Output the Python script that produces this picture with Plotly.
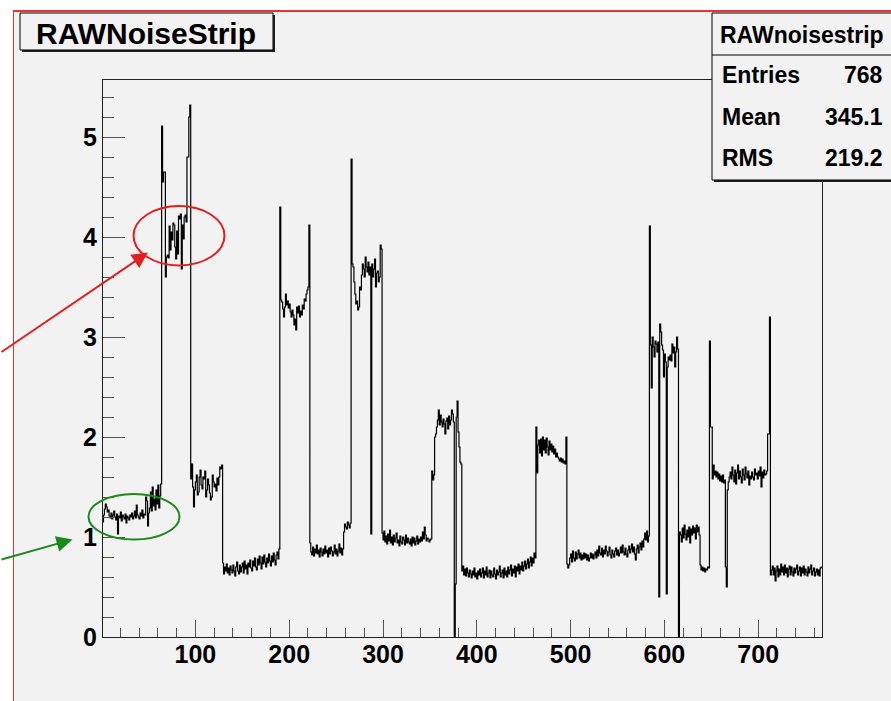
import plotly.graph_objects as go

# ---------------- data (bin contents) ----------------
seg_a = [1.17,1.15,1.22,1.28,1.33,1.30,1.25,1.27,1.21,1.19,
         1.24,1.18,1.22,1.26,1.20,1.17,1.23,1.03,1.21,1.19,
         1.25,1.16,1.22,1.20,1.18,1.23,1.14,1.21,1.19,1.17,
         1.22,1.20,1.24,1.18,1.21,1.26,1.19,1.32,1.22,1.20,
         1.18,1.24,1.21,1.27,1.19,1.23,1.22,1.40,1.36,1.11,
         1.24,1.29,1.45,1.26,1.50,1.31,1.38,1.27,1.47,1.33,
         1.52,1.29,1.41,1.53]
seg_b = [5.11,4.55,4.65,4.65,3.60,3.80,3.82,3.79,4.11,3.87,
         4.05,3.97,4.14,4.12,3.90,3.78,4.06,3.83,4.21,4.18,
         4.23,3.68,4.12,3.98,4.20,4.22,4.15,4.80,4.80,5.20,
         5.32]
seg_c = [1.58,1.73,1.50,1.30,1.47,1.55,1.62,1.42,1.45,1.60,
         1.67,1.52,1.48,1.60,1.58,1.66,1.40,1.47,1.58,1.52,
         1.44,1.37,1.40,1.62,1.55,1.50,1.53,1.46,1.59,1.52,
         1.60,1.70,1.68,1.72]
seg_d = [0.74,0.63,0.70,0.66,0.73,0.64,0.69,0.62,0.71,0.67,
         0.64,0.72,0.66,0.61,0.70,0.75,0.66,0.63,0.72,0.65,
         0.70,0.74,0.64,0.76,0.68,0.72,0.63,0.74,0.70,0.77,
         0.69,0.66,0.76,0.71,0.79,0.70,0.67,0.78,0.72,0.81,
         0.74,0.68,0.80,0.73,0.82,0.75,0.70,0.79,0.74,0.83,
         0.76,0.71,0.81,0.75,0.84,0.77,0.72,0.82,0.85,0.78,
         0.88]
seg_e = [4.30,3.37,3.35,3.28,3.20,3.30,3.43,3.32,3.36,3.29,
         3.33,3.25,3.20,3.27,3.22,3.12,3.18,3.07,3.30,3.24,
         3.31,3.20,3.26,3.22,3.32,3.28,3.38,3.36,3.43,3.47,
         3.50,4.12]
seg_f = [0.94,0.85,0.82,0.90,0.81,0.88,0.84,0.92,0.83,0.87,
         0.80,0.89,0.85,0.81,0.88,0.83,0.91,0.84,0.87,0.80,
         0.89,0.83,0.90,0.86,0.81,0.85,0.92,0.83,0.88,0.81,
         0.86,0.93,0.84,0.89,0.82,0.88,
         1.05,1.13,1.10,1.08,1.15,1.12,1.09,1.14]
seg_g = [4.78,3.73,3.70,3.55,3.43,3.33,3.36,3.27,3.30,3.50,
         3.47,3.62,3.73,3.68,3.60,3.80,3.70,3.65,3.75,3.62,
         3.70,1.03,3.73,3.60,3.68,3.78,3.50,3.64,3.66,3.55,
         3.60,3.92,3.88]
seg_h = [1.04,0.97,1.06,0.95,1.01,0.93,1.03,0.96,1.07,0.94,
         1.00,0.92,1.02,0.95,0.99,1.04,0.94,0.97,0.91,1.01,
         0.95,0.93,1.00,0.97,0.92,1.02,0.94,0.99,0.95,0.93,
         0.98,0.91,1.00,0.94,0.99,0.92,0.96,1.01,0.93,0.98,
         0.95,1.00,0.96,1.05,0.98,1.10,1.02,0.96,0.99,0.98,
         0.95,0.97,0.98]
seg_i = [1.66,1.57,1.62,2.00,2.03,2.10,2.17,2.27,2.12,2.22,
         2.15,2.10,2.18,2.13,2.03,2.16,2.19,2.08,2.21,2.12,
         2.17,2.27,2.23,2.15,0.00,0.53,2.20,2.36,2.05,1.90,
         1.75,1.73]
seg_j = [0.66,0.71,0.62,0.68,0.61,0.69,0.64,0.60,0.67,0.63,
         0.59,0.66,0.62,0.69,0.60,0.64,0.58,0.66,0.62,0.68,
         0.60,0.64,0.69,0.59,0.66,0.62,0.70,0.60,0.64,0.67,
         0.59,0.66,0.62,0.60,0.69,0.63,0.58,0.67,0.62,0.65,
         0.71,0.60,0.64,0.67,0.59,0.69,0.62,0.66,0.60,0.70,
         0.63,0.67,0.72,0.61,0.68,0.64,0.71,0.60,0.70,0.66,
         0.73,0.63,0.71,0.67,0.75,0.66,0.71,0.76,0.68,0.73,
         0.78,0.69,0.75,0.80,0.71,0.79,0.74,0.84,0.79]
seg_k = [2.10,1.64,1.92,1.97,1.84,1.98,1.81,2.00,1.87,1.97,
         1.84,1.99,1.90,1.82,1.96,1.87,1.93,1.85,1.91,1.83,
         1.88,1.80,1.84,1.80,1.78,1.76,1.79,1.75,1.78,1.74,
         1.76,1.73,2.00]
seg_l = [0.73,0.69,0.72,0.79,0.83,0.75,0.86,0.79,0.76,0.85,
         0.78,0.83,0.87,0.79,0.84,0.77,0.82,0.78,0.84,0.79,
         0.83,0.77,0.82,0.76,0.79,0.84,0.79,0.83,0.78,0.82,
         0.85,0.79,0.87,0.81,0.91,0.84,0.82,0.89,0.80,0.87,
         0.83,0.91,0.86,0.81,0.85,0.90,0.82,0.79,0.87,0.83,
         0.80,0.86,0.89,0.82,0.87,0.81,0.84,0.90,0.84,0.92,
         0.85,0.82,0.89,0.83,0.80,0.87,0.91,0.84,0.88,0.93,
         0.85,0.90,0.83,0.77,0.88,0.92,0.84,0.90,0.94,0.87,
         0.96,0.90,0.98,1.04,0.97,1.06,0.95,1.01]
seg_m = [4.11,2.92,2.49,3.00,2.90,2.80,2.96,2.93,2.85,2.95,
         0.40,3.13,3.05,2.92,2.87,2.60,2.83,2.75,0.43,2.70,
         2.80,2.77,2.82,2.76,2.93,2.84,2.90,2.70,2.85,3.00,
         2.88]
seg_n = [0.00,1.05,1.02,0.95,1.09,0.99,1.12,1.03,0.97,1.07,
         1.00,1.10,0.94,1.08,1.02,1.11,1.04,1.09,0.98,1.12,
         1.05,1.10,1.02,
         0.72,0.67,0.70,0.66,0.69,0.65,0.68,0.67,0.70,0.69]
seg_o = [2.96,2.10,2.10,1.58,1.72,1.62,1.66,1.60,1.65,1.58,
         1.63,1.56,1.61,1.55,1.62,1.54,1.57,0.70,0.50,1.47,
         1.55,1.60,1.65,1.58,1.70,1.62,1.55,1.67,1.53,1.64,
         1.72,1.58,1.66,1.60,1.54,1.68,1.62,1.57,1.70,1.63,
         1.59,1.66,1.52,1.61,1.58,1.65,1.60,1.57,1.68,1.62,
         1.64,1.58,1.66,1.61,1.70,1.50,1.65,1.59,1.67,1.62,
         1.63,1.66,2.03,2.03,3.20]
seg_p = [0.62,0.67,0.71,0.62,0.69,0.56,0.66,0.71,0.60,0.68,
         0.62,0.73,0.65,0.70,0.62,0.72,0.64,0.69,0.60,0.68,
         0.71,0.62,0.70,0.65,0.61,0.69,0.64,0.68,0.72,0.62,
         0.66,0.70,0.61,0.69,0.64,0.71,0.62,0.68,0.65,0.61,
         0.70,0.64,0.68,0.72,0.62,0.66,0.69,0.61,0.65,0.68,
         0.62,0.67,0.61,0.69,0.70]

contents = (seg_a + seg_b + seg_c + seg_d + seg_e + seg_f + seg_g + seg_h +
            seg_i + seg_j + seg_k + seg_l + seg_m + seg_n + seg_o + seg_p)
n_bins = len(contents)            # 768
x_ticks = [100, 200, 300, 400, 500, 600, 700]
y_ticks = [0, 1, 2, 3, 4, 5]

hist_title = "RAWNoiseStrip"
stats_title = "RAWnoisestrip"
stats_labels = ["Entries", "Mean", "RMS"]
stats_values = ["768", "345.1", "219.2"]

# ---------------- figure ----------------
W, H = 891, 701
ML, MR, MT, MB = 103, 69, 80, 64
PW, PH = W - ML - MR, H - MT - MB


def PX(x):
    return (x - ML) / PW


def PY(y):
    return (H - MB - y) / PH


edges = list(range(n_bins + 1))
fig = go.Figure(go.Scatter(
    x=edges, y=contents + [contents[-1]],
    mode="lines", line=dict(shape="hv", color="black", width=1.2),
    hoverinfo="skip", showlegend=False))

tickfont = dict(family="Liberation Sans", size=25, color="black", weight="bold")
fig.update_layout(
    width=W, height=H,
    margin=dict(l=ML, r=MR, t=MT, b=MB, pad=0),
    paper_bgcolor="#f2f2f2", plot_bgcolor="#f2f2f2",
    xaxis=dict(range=[1.5, 768], tickvals=x_ticks, ticks="inside", ticklen=17,
               tickwidth=1, tickcolor="#555", showline=True, linecolor="#222",
               linewidth=1, mirror=True, showgrid=False, zeroline=False,
               tickfont=tickfont, ticklabelstandoff=-5,
               minor=dict(dtick=20, tick0=0, ticks="inside", ticklen=9,
                          tickcolor="#555", showgrid=False)),
    yaxis=dict(range=[0, 5.57], tickvals=y_ticks, ticks="inside", ticklen=22,
               tickwidth=1, tickcolor="#555", showline=True, linecolor="#222",
               linewidth=1, mirror=True, showgrid=False, zeroline=False,
               tickfont=tickfont,
               minor=dict(dtick=0.2, tick0=0, ticks="inside", ticklen=11,
                          tickcolor="#555", showgrid=False)),
)

shapes = []
# white margins outside the red frame
shapes.append(dict(type="rect", xref="paper", yref="paper", x0=PX(0), x1=PX(13),
                   y0=PY(H), y1=PY(0), fillcolor="white", line=dict(width=0), layer="above"))
shapes.append(dict(type="rect", xref="paper", yref="paper", x0=PX(0), x1=PX(W),
                   y0=PY(10), y1=PY(0), fillcolor="white", line=dict(width=0), layer="above"))
# red frame lines
shapes.append(dict(type="line", xref="paper", yref="paper", x0=PX(13), x1=PX(W),
                   y0=PY(11), y1=PY(11), line=dict(color="#ee3030", width=2), layer="above"))
shapes.append(dict(type="line", xref="paper", yref="paper", x0=PX(13.5), x1=PX(13.5),
                   y0=PY(10), y1=PY(H), line=dict(color="#ee3030", width=1), layer="above"))
# title box with shadow
shapes.append(dict(type="rect", xref="paper", yref="paper", x0=PX(22), x1=PX(275),
                   y0=PY(52), y1=PY(15), fillcolor="#222", line=dict(width=0), layer="above"))
shapes.append(dict(type="rect", xref="paper", yref="paper", x0=PX(20), x1=PX(273),
                   y0=PY(50), y1=PY(13), fillcolor="#f2f2f2",
                   line=dict(color="black", width=1), layer="above"))
# stats box with shadow
shapes.append(dict(type="rect", xref="paper", yref="paper", x0=PX(714), x1=PX(895),
                   y0=PY(182), y1=PY(15), fillcolor="#222", line=dict(width=0), layer="above"))
shapes.append(dict(type="rect", xref="paper", yref="paper", x0=PX(712), x1=PX(893),
                   y0=PY(180), y1=PY(13), fillcolor="#f2f2f2",
                   line=dict(color="black", width=1), layer="above"))
shapes.append(dict(type="line", xref="paper", yref="paper", x0=PX(712), x1=PX(893),
                   y0=PY(55), y1=PY(55), line=dict(color="black", width=1), layer="above"))
# ellipses
shapes.append(dict(type="circle", xref="paper", yref="paper", x0=PX(133.5), x1=PX(224.5),
                   y0=PY(265.5), y1=PY(206), line=dict(color="#e02020", width=2), layer="above"))
shapes.append(dict(type="circle", xref="paper", yref="paper", x0=PX(88.5), x1=PX(179.5),
                   y0=PY(539.5), y1=PY(494), line=dict(color="#1a8a1a", width=2), layer="above"))
fig.update_layout(shapes=shapes)

ann = []
ann.append(dict(xref="paper", yref="paper", x=PX(146), y=PY(33), text=hist_title,
                showarrow=False, xanchor="center", yanchor="middle",
                font=dict(family="Liberation Sans", size=30, color="black", weight="bold")))
sfont = dict(family="Liberation Sans", size=23, color="black", weight="bold")
ann.append(dict(xref="paper", yref="paper", x=PX(802), y=PY(35), text=stats_title,
                showarrow=False, xanchor="center", yanchor="middle", font=sfont))
row_y = [75, 116.5, 158]
for lab, val, yy in zip(stats_labels, stats_values, row_y):
    ann.append(dict(xref="paper", yref="paper", x=PX(720), y=PY(yy), text=lab,
                    showarrow=False, xanchor="left", yanchor="middle", font=sfont))
    ann.append(dict(xref="paper", yref="paper", x=PX(885), y=PY(yy), text=val,
                    showarrow=False, xanchor="right", yanchor="middle", font=sfont))
# arrows
ann.append(dict(xref="paper", yref="paper", x=PX(148), y=PY(252.5), text="",
                showarrow=True, arrowhead=2, arrowsize=1.6, arrowwidth=2,
                arrowcolor="#e02020", ax=-148, ay=100.5))
ann.append(dict(xref="paper", yref="paper", x=PX(72.5), y=PY(539.5), text="",
                showarrow=True, arrowhead=2, arrowsize=1.6, arrowwidth=2,
                arrowcolor="#1a8a1a", ax=-72.5, ay=20.5))
fig.update_layout(annotations=ann)

fig.write_html("out.html")
